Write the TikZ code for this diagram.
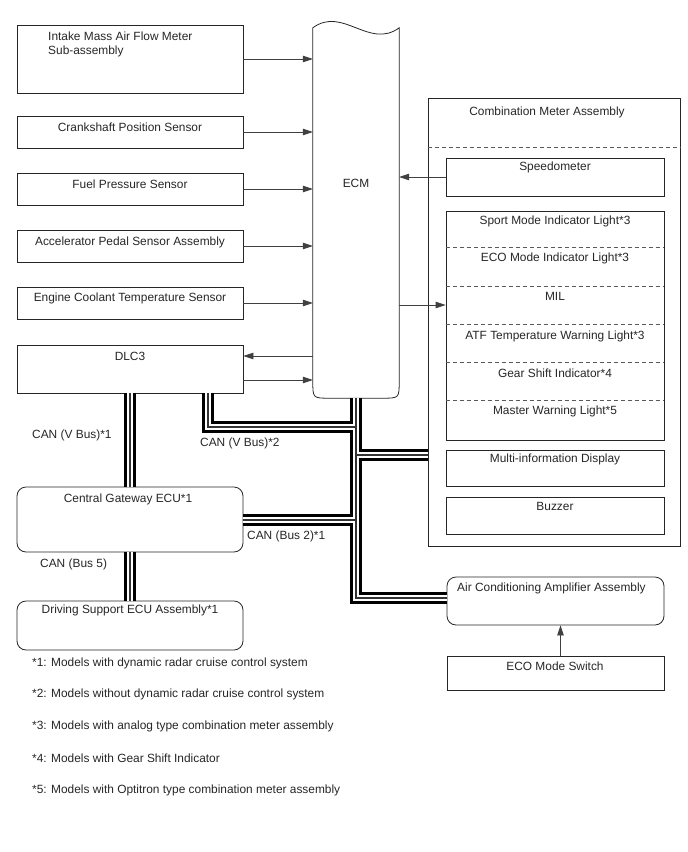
\documentclass[tikz,border=0pt]{standalone}
\usepackage{fontspec}
\setmainfont{Liberation Sans}
\usetikzlibrary{arrows.meta,calc}
\begin{document}
\begin{tikzpicture}[x=1pt,y=-1pt,
  every node/.style={font=\fontsize{11.9}{14}\selectfont, inner sep=0pt, text=black!85},
  box/.style={draw=black!85, line width=0.8pt, rectangle, minimum width=226pt},
  rbox/.style={box, rounded corners=9pt},
  cbox/.style={draw=black!85, line width=0.8pt, rectangle, minimum width=218pt},
  arr/.style={draw=black!75, line width=0.8pt, -{Triangle[length=10pt,width=6.5pt]}},
  sep/.style={draw=black!65, line width=0.8pt, dash pattern=on 4pt off 3pt},
  lbl/.style={anchor=west},
]
\path[use as bounding box] (0,0) rectangle (688,852);

% left boxes
\node[box, minimum height=68pt] (imaf) at (130,59) {};
\node[anchor=north west, align=left] (imaf-t) at (48,32) {Intake Mass Air Flow Meter\\Sub-assembly};
\node[box, minimum height=32pt] (crank) at (130,132) {};
\node (crank-t) at (130,127) {Crankshaft Position Sensor};
\node[box, minimum height=32pt] (fuel) at (130,189) {};
\node (fuel-t) at (130,184) {Fuel Pressure Sensor};
\node[box, minimum height=32pt] (accel) at (130,246) {};
\node (accel-t) at (130,242) {Accelerator Pedal Sensor Assembly};
\node[box, minimum height=32pt] (cool) at (130,303) {};
\node (cool-t) at (130,298) {Engine Coolant Temperature Sensor};
\node[box, minimum height=48pt] (dlc) at (130,369) {};
\node (dlc-t) at (130,356) {DLC3};
\node[rbox, minimum height=65pt] (gw) at (130,519.5) {};
\node (gw-t) at (128,499) {Central Gateway ECU*1};
\node[rbox, minimum height=49pt] (ds) at (130,625.5) {};
\node (ds-t) at (130,610) {Driving Support ECU Assembly*1};

% ECM
\node[minimum width=86pt, minimum height=370pt] (ecm) at (356,213) {};
\draw[draw=black!85, line width=0.8pt, fill=white]
  (ecm.north west) .. controls ($(ecm.north west)+(30,-22)$) and ($(ecm.north east)+(-30,22)$) .. (ecm.north east)
  -- ($(ecm.south east)+(0,-17)$) .. controls (ecm.south east) .. ($(ecm.south east)+(-17,0)$)
  -- ($(ecm.south west)+(17,0)$) .. controls (ecm.south west) .. ($(ecm.south west)+(0,-17)$) -- cycle;
\node (ecm-t) at (356,183) {ECM};

% combination meter
\node[draw=black!85, line width=0.8pt, minimum width=252pt, minimum height=448pt] (cma) at (554,322) {};
\node (cma-t) at (547,112) {Combination Meter Assembly};
\draw[sep] ($(cma.north west)+(0,50)$) -- ($(cma.north east)+(0,50)$);
\node[cbox, minimum height=38pt] (spd) at (555,177) {};
\node (spd-t) at (555,167) {Speedometer};
\node[cbox, minimum height=229pt] (grp) at (555,325.5) {};
\foreach \o in {37,76,114,152,190}
  \draw[sep] ($(grp.north west)+(0,\o)$) -- ($(grp.north east)+(0,\o)$);
\node (r1) at (555,221) {Sport Mode Indicator Light*3};
\node (r2) at (555,258) {ECO Mode Indicator Light*3};
\node (r3) at (555,296) {MIL};
\node (r4) at (555,336) {ATF Temperature Warning Light*3};
\node (r5) at (555,373) {Gear Shift Indicator*4};
\node (r6) at (555,411) {Master Warning Light*5};
\node[cbox, minimum height=36pt] (mid) at (555,468) {};
\node (mid-t) at (555,459) {Multi-information Display};
\node[cbox, minimum height=37pt] (buz) at (555,515.5) {};
\node (buz-t) at (555,506) {Buzzer};

% air con and eco switch
\node[draw=black!85, line width=0.8pt, rounded corners=9pt, minimum width=217pt, minimum height=48pt] (aca) at (555.5,601) {};
\node[anchor=west] (aca-t) at (457,588) {Air Conditioning Amplifier Assembly};
\node[draw=black!85, line width=0.8pt, minimum width=217pt, minimum height=34pt] (eco) at (555.5,673) {};
\node (eco-t) at (555,666) {ECO Mode Switch};

% arrows
\draw[arr] (imaf.east) -- (imaf.east -| ecm.west);
\draw[arr] (crank.east) -- (crank.east -| ecm.west);
\draw[arr] (fuel.east) -- (fuel.east -| ecm.west);
\draw[arr] (accel.east) -- (accel.east -| ecm.west);
\draw[arr] (cool.east) -- (cool.east -| ecm.west);
\draw[arr] ([yshift=13pt]dlc.east -| ecm.west) -- ([yshift=13pt]dlc.east);
\draw[arr] ([yshift=-11pt]dlc.east) -- ([yshift=-11pt]dlc.east -| ecm.west);
\draw[arr] (spd.west) -- (spd.west -| ecm.east);
\draw[arr] ([yshift=20.5pt]grp.west -| ecm.east) -- ([yshift=20.5pt]grp.west);
\draw[arr] ([xshift=5pt]eco.north) -- ([xshift=5pt]aca.south);

% buses
\coordinate (jD) at (356,427);
\coordinate (jC) at (356,455);
\coordinate (jG) at (356,520);
\coordinate (jA) at (356,598);
\foreach \w/\c in {12/black,6/white,1.2/black!80}
  \draw[line width=\w pt, draw=\c, line join=miter, line cap=butt]
    (dlc.south) -- (gw.north)
    (gw.south) -- (ds.north)
    ([xshift=78pt]dlc.south) |- (jD)
    (ecm.south) -- (jA) -- (jA -| aca.west)
    (jC) -- (jC -| cma.west)
    (jG -| gw.east) -- (jG);

% bus labels
\node[lbl] (l1) at (32,435) {CAN (V Bus)*1};
\node[lbl] (l2) at (200,443) {CAN (V Bus)*2};
\node[lbl] (l3) at (247,536) {CAN (Bus 2)*1};
\node[lbl] (l4) at (40,564) {CAN (Bus 5)};

% footnotes
\node[lbl] (f1) at (32,663) {*1: Models with dynamic radar cruise control system};
\node[lbl] (f2) at (32,694) {*2: Models without dynamic radar cruise control system};
\node[lbl] (f3) at (32,726) {*3: Models with analog type combination meter assembly};
\node[lbl] (f4) at (32,758) {*4: Models with Gear Shift Indicator};
\node[lbl] (f5) at (32,790) {*5: Models with Optitron type combination meter assembly};
\end{tikzpicture}
\end{document}
